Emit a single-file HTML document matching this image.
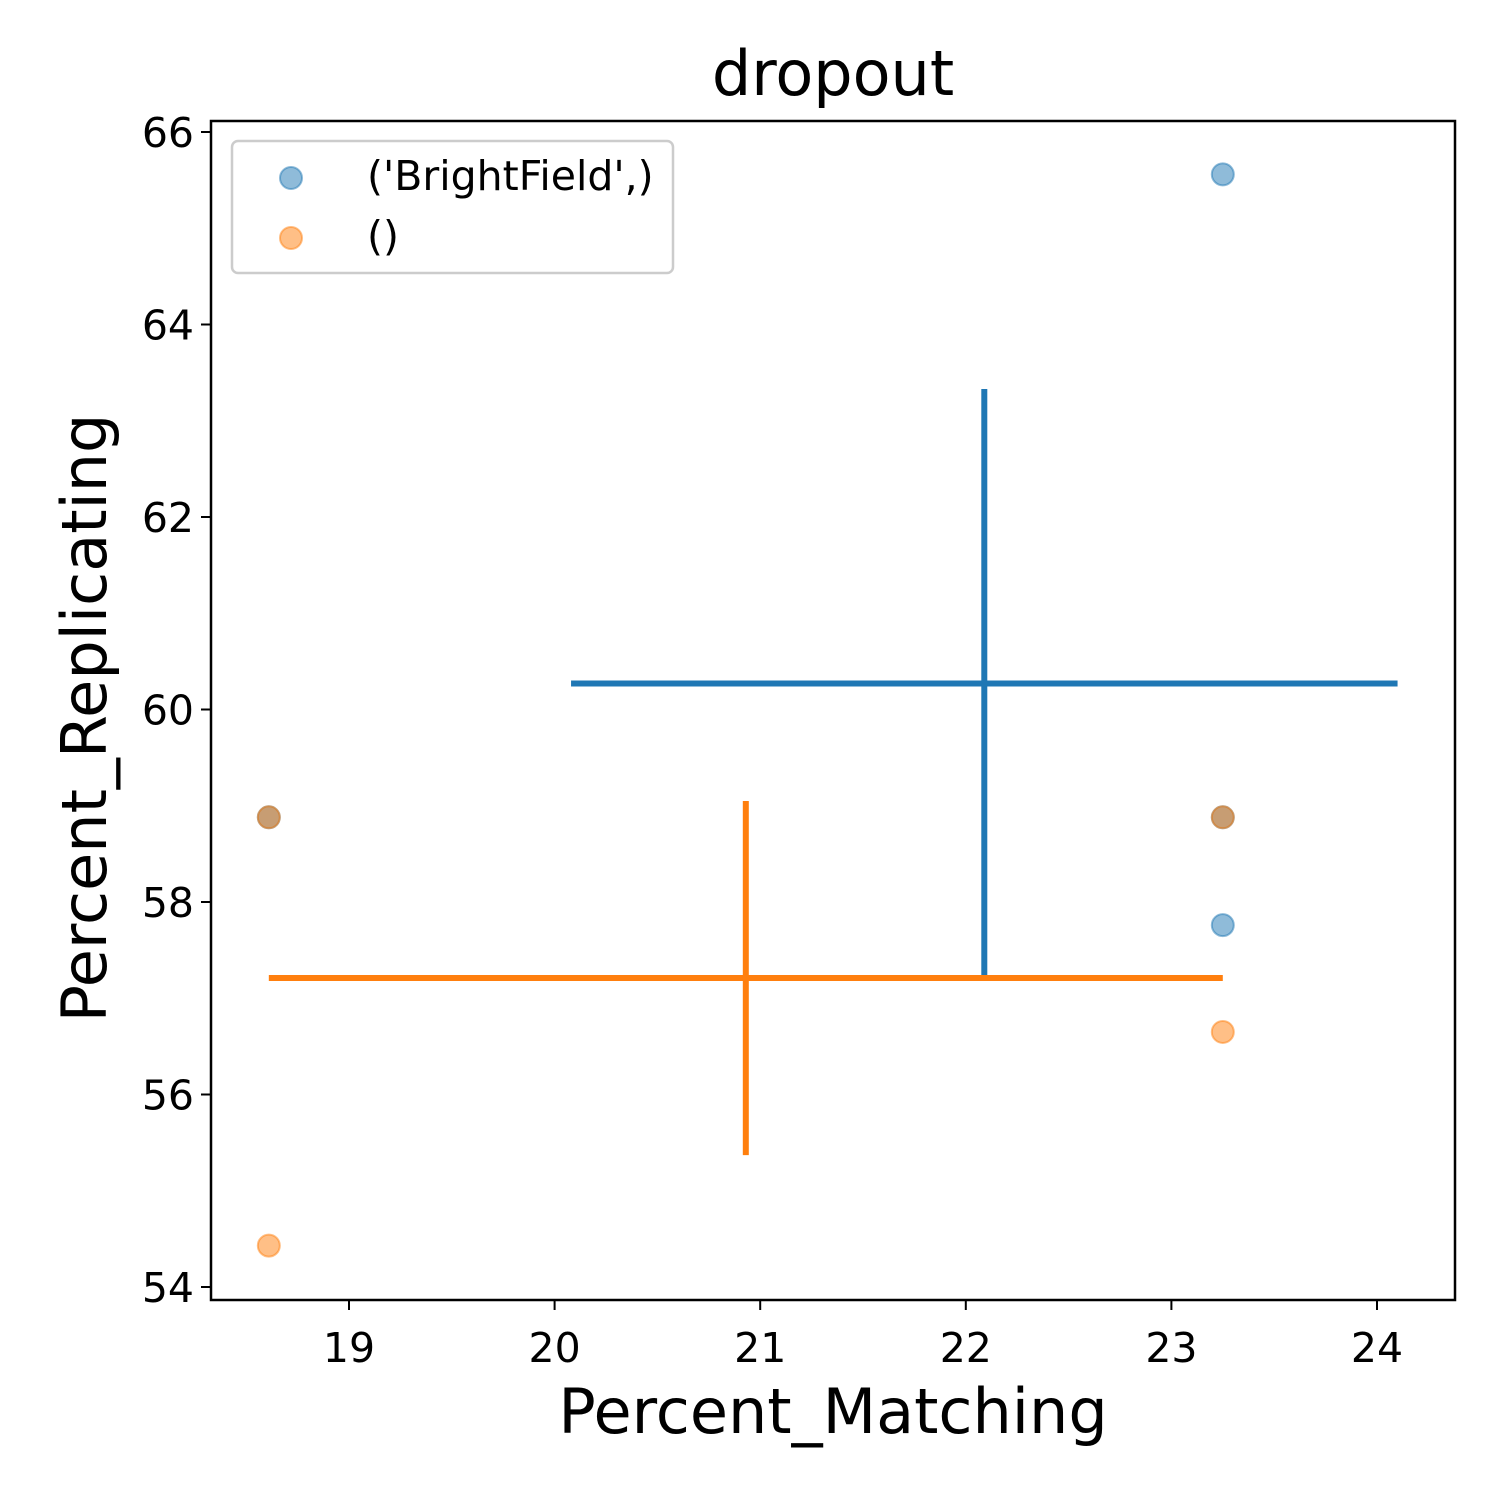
<!DOCTYPE html>
<html><head><meta charset="utf-8"><style>
body{margin:0;background:#fff}
svg text{font-family:"DejaVu Sans","Liberation Sans",sans-serif}
</style></head><body>
<svg id="chart" width="1500" height="1500" xmlns="http://www.w3.org/2000/svg">
<rect width="1500" height="1500" fill="#fff"/>
<text x="833" y="95" font-size="62" text-anchor="middle">dropout</text>
<g id="plot"></g>
<text x="833" y="1433" font-size="62" text-anchor="middle">Percent_Matching</text>
<text transform="translate(106,718) rotate(-90)" font-size="62" text-anchor="middle">Percent_Replicating</text>
</svg>
<script>
const seriesNames = ["('BrightField',)", "()"];
const seriesColors = ["#1f77b4", "#ff7f0e"];
const blueX = [23.25, 23.25, 23.25, 18.61];
const blueY = [65.56, 58.88, 57.76, 58.88];
const orangeX = [18.61, 23.25, 23.25, 18.61];
const orangeY = [58.88, 58.88, 56.65, 54.43];
const meanX = [22.09, 20.93];
const meanY = [60.27, 57.21];
const errX = [2.01, 2.32];
const errY = [3.06, 1.84];
const xTicks = [19, 20, 21, 22, 23, 24];
const yTicks = [54, 56, 58, 60, 62, 64, 66];

const L=211,R=1455,T=121,B=1300;
const sx=v=>349+(v-19)*205.6;
const sy=v=>132+(66-v)*96.25;
const NS="http://www.w3.org/2000/svg";
const g=document.getElementById('plot');
function mk(t,a,p){const e=document.createElementNS(NS,t);for(const k in a)e.setAttribute(k,a[k]);(p||g).appendChild(e);return e;}

const frame=mk('rect',{x:L,y:T,width:R-L,height:B-T,fill:'none',stroke:'#000','stroke-width':2.5});



xTicks.forEach(v=>{
  const l=mk('line',{x1:sx(v),x2:sx(v),y1:B,y2:B+10,stroke:'#000','stroke-width':2});
  
  
  const t=mk('text',{x:sx(v),y:B+62,'font-size':41,'text-anchor':'middle'});
  t.textContent=v;
  
  
});
yTicks.forEach(v=>{
  const l=mk('line',{x1:L-10,x2:L,y1:sy(v),y2:sy(v),stroke:'#000','stroke-width':2});
  
  
  const t=mk('text',{x:L-17,y:sy(v)+15,'font-size':41,'text-anchor':'end'});
  t.textContent=v;
  
  
});

const pts=[[blueX,blueY],[orangeX,orangeY]];
pts.forEach((s,i)=>{
  s[0].forEach((x,j)=>{
    const c=mk('circle',{cx:sx(x),cy:sy(s[1][j]),r:11,fill:seriesColors[i],'fill-opacity':0.5,stroke:seriesColors[i],'stroke-opacity':0.5,'stroke-width':2});
    
    
  });
});
meanX.forEach((m,i)=>{
  const h=mk('line',{x1:sx(m-errX[i]),x2:sx(m+errX[i]),y1:sy(meanY[i]),y2:sy(meanY[i]),stroke:seriesColors[i],'stroke-width':6});
  
  
  const v=mk('line',{x1:sx(m),x2:sx(m),y1:sy(meanY[i]-errY[i]),y2:sy(meanY[i]+errY[i]),stroke:seriesColors[i],'stroke-width':6});
  
  
});

const lg=mk('g',{});


mk('rect',{x:232,y:141,width:441,height:132,rx:6,fill:'#fff','fill-opacity':0.8,stroke:'#ccc','stroke-width':2.5},lg);
seriesNames.forEach((n,i)=>{
  const y=178+i*60;
  const c=mk('circle',{cx:291,cy:y,r:11,fill:seriesColors[i],'fill-opacity':0.5,stroke:seriesColors[i],'stroke-opacity':0.5,'stroke-width':2},lg);
  
  
  const t=mk('text',{x:367,y:y+12,'font-size':41},lg);
  t.textContent=n;
  
  
});
</script>
</body></html>
